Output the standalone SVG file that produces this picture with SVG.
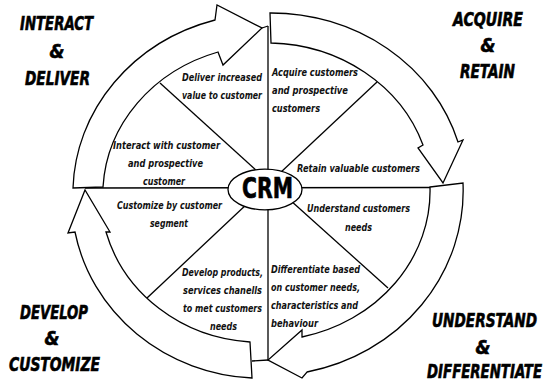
<svg xmlns="http://www.w3.org/2000/svg" width="550" height="381" viewBox="0 0 550 381">
<style>
.arrow{fill:#fff;stroke:#000;stroke-width:1.3;stroke-linejoin:miter}
.spoke{stroke:#000;stroke-width:1.3;fill:none}
.big{font-family:"Liberation Sans Narrow","DejaVu Sans Condensed","Liberation Sans",sans-serif;font-weight:bold;font-style:italic;font-size:19px;fill:#000;stroke:#000;stroke-width:0.6}
.big2{font-family:"Liberation Sans Narrow","DejaVu Sans Condensed","Liberation Sans",sans-serif;font-weight:bold;font-style:italic;font-size:16px;fill:#000;stroke:#000;stroke-width:0.5}
.lbl{font-family:"Liberation Sans Narrow","DejaVu Sans Condensed","Liberation Sans",sans-serif;font-weight:bold;font-style:italic;font-size:10.5px;fill:#111}
.crm{font-family:"Liberation Sans Narrow","DejaVu Sans Condensed","Liberation Sans",sans-serif;font-weight:bold;font-size:28px;fill:#000;stroke:#000;stroke-width:0.6}
</style>
<g id="connectors">
<line class="spoke" x1="268" y1="26" x2="268" y2="360"/>
<line class="spoke" x1="85" y1="188" x2="430" y2="187.5"/>
<line class="spoke" x1="160" y1="83" x2="258" y2="172"/>
<line class="spoke" x1="377" y1="82" x2="280" y2="173"/>
<line class="spoke" x1="388" y1="288" x2="290" y2="200"/>
<line class="spoke" x1="147" y1="298" x2="248" y2="203"/>
<line class="spoke" x1="262" y1="28" x2="268" y2="26"/>
<line class="spoke" x1="252" y1="361" x2="268" y2="360"/>
</g>
<g id="arrow-interact">
<path class="arrow" d="M103,187 L73,188 A195,180 0 0 1 215,20 L217,5 L262,28 L223,65 L218,52 A165,150 0 0 0 103,187 Z"/>
</g>
<g id="arrow-acquire">
<path class="arrow" d="M271,43 L270,13 A195,180 0 0 1 458,142 L463,140 L443,183 L418,148 L423,145 A165,150 0 0 0 271,43 Z"/>
</g>
<g id="arrow-understand">
<path class="arrow" d="M430,187 L463,183 A195,185 0 0 1 307,372 L302,378 L268,360 L302,330 L302,337 A165,150 0 0 0 430,187 Z"/>
</g>
<g id="arrow-develop">
<path class="arrow" d="M252,378 L250,342 A160,150 0 0 1 106,232 L110,232 L85,190 L68,233 L75,232 A190,180 0 0 0 252,378 Z"/>
</g>
<g id="crm">
<ellipse cx="265" cy="189.5" rx="37" ry="20.3" fill="#fff" stroke="#000" stroke-width="1.3"/>
<text class="crm" x="242" y="198" textLength="51" lengthAdjust="spacingAndGlyphs">CRM</text>
</g>
<g id="label-interact-deliver">
<text class="big" x="20" y="30" textLength="73" lengthAdjust="spacingAndGlyphs">INTERACT</text>
<text class="big" x="57" y="58" text-anchor="middle">&amp;</text>
<text class="big" x="25" y="85" textLength="65" lengthAdjust="spacingAndGlyphs">DELIVER</text>
</g>
<g id="label-acquire-retain">
<text class="big" x="523" y="26" text-anchor="end" textLength="70" lengthAdjust="spacingAndGlyphs">ACQUIRE</text>
<text class="big" x="488" y="52" text-anchor="middle">&amp;</text>
<text class="big" x="515" y="78" text-anchor="end" textLength="55" lengthAdjust="spacingAndGlyphs">RETAIN</text>
</g>
<g id="label-develop-customize">
<text class="big" x="20" y="319" textLength="68" lengthAdjust="spacingAndGlyphs">DEVELOP</text>
<text class="big" x="52" y="345" text-anchor="middle">&amp;</text>
<text class="big" x="9" y="371" textLength="91" lengthAdjust="spacingAndGlyphs">CUSTOMIZE</text>
</g>
<g id="label-understand-differentiate">
<text class="big2" transform="translate(537,327) scale(1,1.18)" x="0" y="0" text-anchor="end" textLength="105" lengthAdjust="spacingAndGlyphs">UNDERSTAND</text>
<text class="big" x="483" y="354" text-anchor="middle">&amp;</text>
<text class="big2" transform="translate(542,378) scale(1,1.18)" x="0" y="0" text-anchor="end" textLength="115" lengthAdjust="spacingAndGlyphs">DIFFERENTIATE</text>
</g>
<g id="sector-deliver">
<text class="lbl" x="182" y="81" textLength="80" lengthAdjust="spacingAndGlyphs">Deliver increased</text>
<text class="lbl" x="182" y="99" textLength="80" lengthAdjust="spacingAndGlyphs">value to customer</text>
</g>
<g id="sector-interact">
<text class="lbl" x="113" y="149" textLength="107" lengthAdjust="spacingAndGlyphs">Interact with customer</text>
<text class="lbl" x="128" y="167" textLength="75" lengthAdjust="spacingAndGlyphs">and prospective</text>
<text class="lbl" x="143" y="185" textLength="42" lengthAdjust="spacingAndGlyphs">customer</text>
</g>
<g id="sector-acquire">
<text class="lbl" x="272" y="76" textLength="86" lengthAdjust="spacingAndGlyphs">Acquire customers</text>
<text class="lbl" x="272" y="94" textLength="76" lengthAdjust="spacingAndGlyphs">and prospective</text>
<text class="lbl" x="272" y="112" textLength="48" lengthAdjust="spacingAndGlyphs">customers</text>
</g>
<g id="sector-retain">
<text class="lbl" x="297" y="172" textLength="123" lengthAdjust="spacingAndGlyphs">Retain valuable customers</text>
</g>
<g id="sector-understand">
<text class="lbl" x="307" y="212" textLength="103" lengthAdjust="spacingAndGlyphs">Understand customers</text>
<text class="lbl" x="345" y="231" textLength="27" lengthAdjust="spacingAndGlyphs">needs</text>
</g>
<g id="sector-differentiate">
<text class="lbl" x="271" y="273" textLength="89" lengthAdjust="spacingAndGlyphs">Differentiate based</text>
<text class="lbl" x="271" y="291" textLength="89" lengthAdjust="spacingAndGlyphs">on customer needs,</text>
<text class="lbl" x="271" y="309" textLength="87" lengthAdjust="spacingAndGlyphs">characteristics and</text>
<text class="lbl" x="271" y="327" textLength="47" lengthAdjust="spacingAndGlyphs">behaviour</text>
</g>
<g id="sector-customize">
<text class="lbl" x="117" y="209" textLength="105" lengthAdjust="spacingAndGlyphs">Customize by customer</text>
<text class="lbl" x="150" y="227" textLength="38" lengthAdjust="spacingAndGlyphs">segment</text>
</g>
<g id="sector-develop">
<text class="lbl" x="182" y="276" textLength="81" lengthAdjust="spacingAndGlyphs">Develop products,</text>
<text class="lbl" x="183" y="294" textLength="79" lengthAdjust="spacingAndGlyphs">services chanells</text>
<text class="lbl" x="183" y="312" textLength="79" lengthAdjust="spacingAndGlyphs">to met customers</text>
<text class="lbl" x="210" y="330" textLength="27" lengthAdjust="spacingAndGlyphs">needs</text>
</g>
</svg>
